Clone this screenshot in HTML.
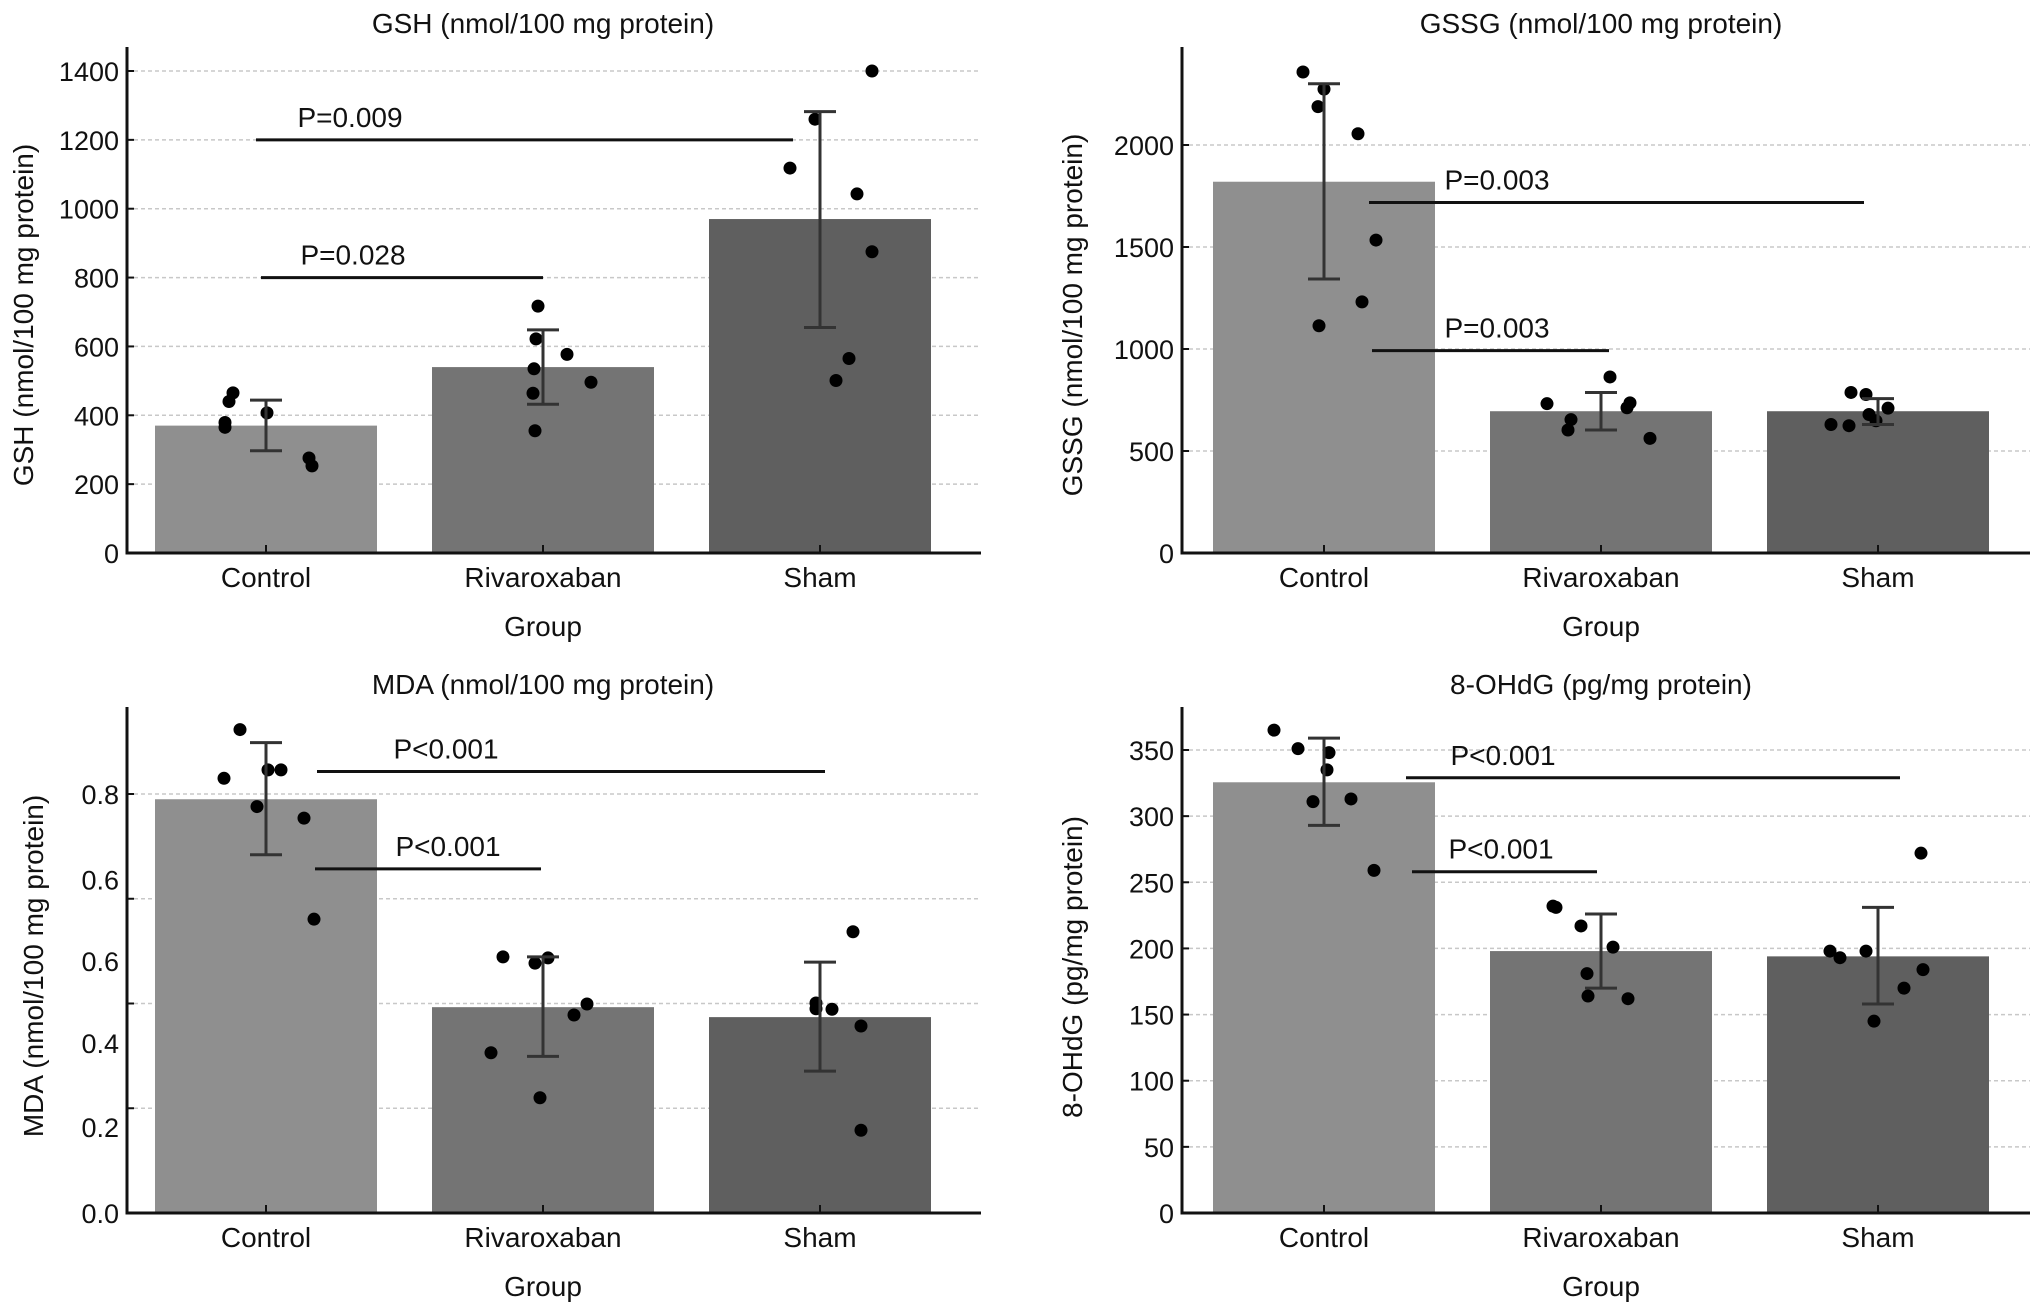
<!DOCTYPE html>
<html><head><meta charset="utf-8"><style>
html,body{margin:0;padding:0;background:#fff;}
svg{display:block;font-family:"Liberation Sans",Arial,sans-serif;}
</style></head><body>
<svg id="fig" width="2032" height="1313" viewBox="0 0 2032 1313" xmlns="http://www.w3.org/2000/svg"></svg>
<script>
const categories = ["Control","Rivaroxaban","Sham"];
// GSH
const gshMeans = [370, 540, 970];
const gshErrLo = [297, 432, 655];
const gshErrHi = [444, 648, 1282];
const gshPoints = [[465,440,379,365,407,276,253],[717,622,577,535,496,464,355],[1400,1260,1118,1043,875,565,501]];
const gshJitter = [[-33,-37,-41,-41,1,43,46],[-5,-7,24,-9,48,-10,-8],[52,-5,-30,37,52,29,16]];
const gshTicks = [0,200,400,600,800,1000,1200,1400];
const gshTickLabels = ["0","200","400","600","800","1000","1200","1400"];
const gshSig = [{label:"P=0.009",value:1200,x1:256,x2:793,tx:350},{label:"P=0.028",value:800,x1:261,x2:543,tx:353}];
// GSSG
const gssgMeans = [1820, 695, 695];
const gssgErrLo = [1343, 603, 630];
const gssgErrHi = [2300, 787, 757];
const gssgPoints = [[2358,2274,2188,2055,1534,1231,1114],[863,732,736,712,654,603,562],[787,777,710,679,648,630,624]];
const gssgJitter = [[-21,0,-6,34,52,38,-5],[9,-54,29,26,-30,-33,49],[-27,-12,10,-9,-2,-47,-29]];
const gssgTicks = [0,500,1000,1500,2000];
const gssgTickLabels = ["0","500","1000","1500","2000"];
const gssgSig = [{label:"P=0.003",value:1718,x1:1369,x2:1864,tx:1497},{label:"P=0.003",value:992,x1:1372,x2:1609,tx:1497}];
// MDA
const mdaMeans = [0.790, 0.393, 0.374];
const mdaErrLo = [0.684, 0.299, 0.271];
const mdaErrHi = [0.898, 0.489, 0.479];
const mdaPoints = [[0.923,0.830,0.846,0.846,0.776,0.754,0.561],[0.489,0.477,0.487,0.399,0.378,0.306,0.220],[0.537,0.401,0.390,0.389,0.357,0.158]];
const mdaJitter = [[-26,-42,2,15,-9,38,48],[-40,-8,5,44,31,-52,-3],[33,-4,-4,12,41,41]];
const mdaTicks = [0.2,0.4,0.6,0.8];
const mdaLabelValues = [0.0,0.164,0.325,0.481,0.637,0.8];
const mdaTickLabels = ["0.0","0.2","0.4","0.6","0.6","0.8"];
const mdaSig = [{label:"P<0.001",value:0.843,x1:317,x2:825,tx:446},{label:"P<0.001",value:0.657,x1:315,x2:541,tx:448}];
// 8-OHdG
const ohdgMeans = [325.6, 198, 194];
const ohdgErrLo = [293, 170, 158];
const ohdgErrHi = [359, 226, 231];
const ohdgPoints = [[365,351,348,335,311,313,259],[232,231,217,201,181,164,162],[272,198,193,198,184,170,145]];
const ohdgJitter = [[-50,-26,5,3,-11,27,50],[-48,-45,-20,12,-14,-13,27],[43,-48,-38,-12,45,26,-4]];
const ohdgTicks = [0,50,100,150,200,250,300,350];
const ohdgTickLabels = ["0","50","100","150","200","250","300","350"];
const ohdgSig = [{label:"P<0.001",value:329,x1:1406,x2:1900,tx:1503},{label:"P<0.001",value:258,x1:1412,x2:1597,tx:1501}];

const NS="http://www.w3.org/2000/svg";
const svg=document.getElementById('fig');
const barColors=["#8f8f8f","#747474","#5f5f5f"];
const SPACING=277;
function mk(tag,attrs,parent,text){const e=document.createElementNS(NS,tag);for(const k in attrs)e.setAttribute(k,attrs[k]);if(text!==undefined)e.textContent=text;(parent||svg).appendChild(e);return e;}

function panel(cfg){
  const g=mk('g',{});
  
  
  const y=v=>cfg.y0-v*(cfg.y0-cfg.yRef)/cfg.vRef;
  const cx=i=>cfg.c0+i*SPACING;
  cfg.grid.forEach(v=>{
    const l=mk('line',{x1:cfg.ax,x2:cfg.ax2,y1:y(v),y2:y(v),stroke:"#c8c8c8","stroke-width":1.5,"stroke-dasharray":"4,3"},g);
    
    
  });
  cfg.means.forEach((m,i)=>{
    const r=mk('rect',{x:cx(i)-111,y:y(m),width:222,height:cfg.y0-y(m),fill:barColors[i]},g);
    
    
  });
  cfg.points.forEach((arr,i)=>arr.forEach((v,j)=>{
    const c=mk('circle',{cx:cx(i)+cfg.jitter[i][j],cy:y(v),r:6.5,fill:"#000"},g);
    
    
  }));
  cfg.means.forEach((m,i)=>{
    const eg=mk('g',{stroke:"#333","stroke-width":3},g);
    
    
    mk('line',{x1:cx(i),x2:cx(i),y1:y(cfg.lo[i]),y2:y(cfg.hi[i])},eg);
    mk('line',{x1:cx(i)-16,x2:cx(i)+16,y1:y(cfg.lo[i]),y2:y(cfg.lo[i])},eg);
    mk('line',{x1:cx(i)-16,x2:cx(i)+16,y1:y(cfg.hi[i]),y2:y(cfg.hi[i])},eg);
  });
  cfg.sig.forEach(s=>{
    const sl=mk('line',{x1:s.x1,x2:s.x2,y1:y(s.value),y2:y(s.value),stroke:"#111","stroke-width":3},g);
    
    
    const st=mk('text',{x:s.tx,y:y(s.value)-13,"text-anchor":"middle","font-size":28,fill:"#111"},g,s.label);
    
    
  });
  const ya=mk('line',{x1:cfg.ax,x2:cfg.ax,y1:cfg.top,y2:cfg.y0+1.5,stroke:"#111","stroke-width":3},g);
  
  
  const xa=mk('line',{x1:cfg.ax-1.5,x2:cfg.ax2,y1:cfg.y0,y2:cfg.y0,stroke:"#111","stroke-width":3},g);
  
  
  cfg.tickVals.forEach(v=>{mk('line',{x1:cfg.ax,x2:cfg.ax+7,y1:y(v),y2:y(v),stroke:"#111","stroke-width":2},g);});
  cfg.labelVals.forEach((v,k)=>{
    const t=mk('text',{x:cfg.ax-8,y:y(v)+10,"text-anchor":"end","font-size":27,fill:"#111"},g,cfg.tickLabels[k]);
    
    
  });
  categories.forEach((c,i)=>{
    mk('line',{x1:cx(i),x2:cx(i),y1:cfg.y0,y2:cfg.y0-8,stroke:"#111","stroke-width":2},g);
    const t=mk('text',{x:cx(i),y:cfg.y0+34,"text-anchor":"middle","font-size":28,fill:"#111"},g,c);
    
    
  });
  const xt=mk('text',{x:cx(1),y:cfg.y0+83,"text-anchor":"middle","font-size":28,fill:"#111"},g,"Group");
  
  
  const yt=mk('text',{x:0,y:0,"text-anchor":"middle","font-size":28,fill:"#111",transform:`translate(${cfg.ylx},${cfg.yly}) rotate(-90)`},g,cfg.ylabel);
  
  
  const tt=mk('text',{x:cx(1),y:cfg.ty,"text-anchor":"middle","font-size":28,fill:"#111"},g,cfg.title);
  
  
}

panel({name:"gsh",ax:127,ax2:981,top:47,y0:553,yRef:71,vRef:1400,c0:266,
  grid:gshTicks.slice(1),tickVals:gshTicks,labelVals:gshTicks,tickLabels:gshTickLabels,
  means:gshMeans,lo:gshErrLo,hi:gshErrHi,points:gshPoints,jitter:gshJitter,sig:gshSig,
  ylabel:"GSH (nmol/100 mg protein)",ylx:33,yly:315,title:"GSH (nmol/100 mg protein)",ty:33});
panel({name:"gssg",ax:1182,ax2:2030,top:47,y0:553,yRef:145,vRef:2000,c0:1324,
  grid:gssgTicks.slice(1),tickVals:gssgTicks,labelVals:gssgTicks,tickLabels:gssgTickLabels,
  means:gssgMeans,lo:gssgErrLo,hi:gssgErrHi,points:gssgPoints,jitter:gssgJitter,sig:gssgSig,
  ylabel:"GSSG (nmol/100 mg protein)",ylx:1082,yly:315,title:"GSSG (nmol/100 mg protein)",ty:33});
panel({name:"mda",ax:127,ax2:981,top:707,y0:1213,yRef:794,vRef:0.8,c0:266,
  grid:mdaTicks,tickVals:mdaTicks,labelVals:mdaLabelValues,tickLabels:mdaTickLabels,
  means:mdaMeans,lo:mdaErrLo,hi:mdaErrHi,points:mdaPoints,jitter:mdaJitter,sig:mdaSig,
  ylabel:"MDA (nmol/100 mg protein)",ylx:43,yly:966,title:"MDA (nmol/100 mg protein)",ty:694});
panel({name:"ohdg",ax:1182,ax2:2030,top:707,y0:1213,yRef:750,vRef:350,c0:1324,
  grid:ohdgTicks.slice(1),tickVals:ohdgTicks,labelVals:ohdgTicks,tickLabels:ohdgTickLabels,
  means:ohdgMeans,lo:ohdgErrLo,hi:ohdgErrHi,points:ohdgPoints,jitter:ohdgJitter,sig:ohdgSig,
  ylabel:"8-OHdG (pg/mg protein)",ylx:1082,yly:967,title:"8-OHdG (pg/mg protein)",ty:694});
</script>
</body></html>
